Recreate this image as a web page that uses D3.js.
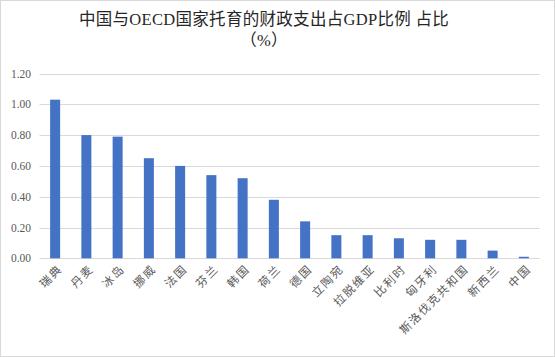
<!DOCTYPE html>
<html><head><meta charset="utf-8">
<script src="https://cdn.jsdelivr.net/npm/d3@7"></script>
<style>body{margin:0;background:#fff}svg{display:block}</style>
</head><body>
<script>
const categories = ["瑞典","丹麦","冰岛","挪威","法国","芬兰","韩国","荷兰","德国","立陶宛","拉脱维亚","比利时","匈牙利","斯洛伐克共和国","新西兰","中国"];
const values = [1.03,0.80,0.79,0.65,0.60,0.54,0.52,0.38,0.24,0.15,0.15,0.13,0.12,0.12,0.05,0.01];
const yTicks = [0,0.2,0.4,0.6,0.8,1.0,1.2];
const titleLines = ["中国与OECD国家托育的财政支出占GDP比例 占比","（%）"];

(function(){
const W=555,H=357;
const svg=d3.select("body").append("svg").attr("width",W).attr("height",H);
svg.append("rect").attr("x",0.5).attr("y",0.5).attr("width",W-1).attr("height",H-1).attr("fill","#fff").attr("stroke","#d9d9d9");
const serif='"Liberation Serif","Times New Roman","Noto Sans CJK SC",serif';
const pL=39.5,pR=539.5,pT=73.5,pB=258.3;
const x=d3.scaleBand().domain(categories).range([pL,pR]).paddingInner(0.68).paddingOuter(0.34);
const y=d3.scaleLinear().domain([0,1.2]).range([pB,pT]);

const g=svg.append("g");
g.selectAll("line.grid").data(yTicks).join("line").attr("class","grid")
 .attr("x1",pL).attr("x2",pR).attr("y1",d=>Math.round(y(d))+0.5).attr("y2",d=>Math.round(y(d))+0.5)
 .attr("stroke","#d9d9d9").attr("stroke-width",1);
g.selectAll("text.yl").data(yTicks).join("text").attr("class","yl")
 .attr("x",31).attr("y",d=>y(d)+4).attr("text-anchor","end")
 .attr("font-family",serif).attr("font-size",11.5).attr("fill","#595959").text(d=>d.toFixed(2));

g.selectAll("rect.bar").data(values).join("rect").attr("class","bar")
 .attr("x",(d,i)=>x(categories[i])).attr("width",x.bandwidth())
 .attr("y",d=>y(d)).attr("height",d=>pB-y(d)).attr("fill","#4472c4");

g.selectAll("text.xl").data(categories).join("text").attr("class","xl")
 .attr("transform",d=>`translate(${x(d)+x.bandwidth()/2+5},${267}) rotate(-45)`)
 .attr("text-anchor","end").attr("dy","0.35em").attr("letter-spacing",1.6)
 .attr("font-family",serif).attr("font-size",11.5).attr("fill","#595959").text(d=>d);

svg.selectAll("text.title").data(titleLines).join("text").attr("class","title")
 .attr("x",264).attr("y",(d,i)=>25+i*21).attr("text-anchor","middle").attr("letter-spacing",0.3)
 .attr("font-family",serif).attr("font-size",16.5).attr("fill","#262626").text(d=>d);
})();
</script>
</body></html>
